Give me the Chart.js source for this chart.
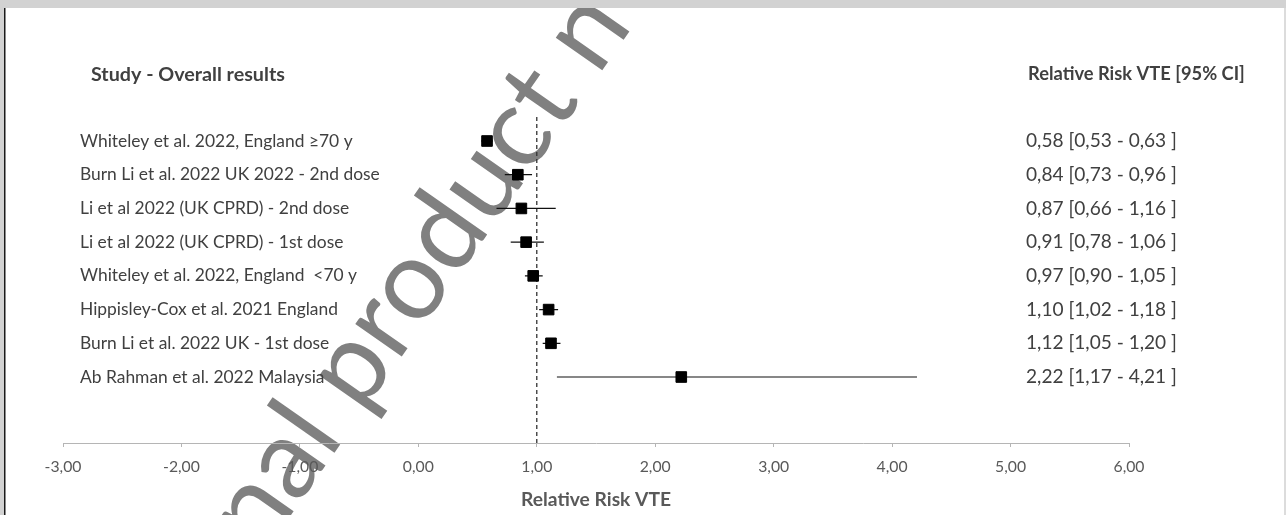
<!DOCTYPE html>
<html>
<head>
<meta charset="utf-8">
<script src="https://cdn.jsdelivr.net/npm/chart.js@4.4.1/dist/chart.umd.min.js"></script>
<style>
  html, body { margin: 0; padding: 0; background: #fff; }
  canvas { display: block; }
</style>
</head>
<body>
<canvas id="c" width="1286" height="515"></canvas>
<script>
// ---- data ----
const studies = [
  "Whiteley et al. 2022, England \u226570 y",
  "Burn Li et al. 2022 UK 2022 - 2nd dose",
  "Li et al 2022 (UK CPRD) - 2nd dose",
  "Li et al 2022 (UK CPRD) - 1st dose",
  "Whiteley et al. 2022, England  <70 y",
  "Hippisley-Cox et al. 2021 England",
  "Burn Li et al. 2022 UK - 1st dose",
  "Ab Rahman et al. 2022 Malaysia"
];
const rr = [0.58, 0.84, 0.87, 0.91, 0.97, 1.10, 1.12, 2.22];
const ciLow = [0.53, 0.73, 0.66, 0.78, 0.90, 1.02, 1.05, 1.17];
const ciHigh = [0.63, 0.96, 1.16, 1.06, 1.05, 1.18, 1.20, 4.21];
const xTicks = [-3, -2, -1, 0, 1, 2, 3, 4, 5, 6];
const leftHeader = "Study - Overall results";
const rightHeader = "Relative Risk VTE [95% CI]";
const axisTitle = "Relative Risk VTE";
const refValue = 1;
const watermark = "original product n";

const fmt = v => v.toFixed(2).replace('.', ',');
const ciLabels = rr.map((v, i) => `${fmt(v)} [${fmt(ciLow[i])} - ${fmt(ciHigh[i])} ]`);

const Y_MIN = -0.712, Y_MAX = 8.957;

const markerData = rr.map((v, i) => ({ x: v, y: i }));
const whiskerData = [];
ciLow.forEach((l, i) => {
  whiskerData.push({ x: l, y: i });
  whiskerData.push({ x: ciHigh[i], y: i });
  whiskerData.push({ x: ciHigh[i], y: null });
});
const refData = [{ x: refValue, y: Y_MIN }, { x: refValue, y: Y_MAX }];

const FONT = "Lato, 'Open Sans', sans-serif";

// font sizes fitted so that text widths match the reference layout
const mctx = document.createElement('canvas').getContext('2d');
function fit(text, target, weight) {
  mctx.font = (weight || '') + " 100px " + FONT;
  return +(100 * target / mctx.measureText(text).width).toFixed(2);
}
const labelSize = fit(studies[1], 300);
const ciSize = fit(ciLabels[1], 151);
const headSizeL = fit(leftHeader, 194, 'bold');
const headSizeR = fit(rightHeader, 217, 'bold');
const titleSize = fit(axisTitle, 150, 'bold');
const tickSize = fit("1,00", 31);

const decor = {
  id: 'decor',
  beforeDraw(chart) {
    const ctx = chart.ctx;
    ctx.save();
    ctx.fillStyle = '#ffffff';
    ctx.fillRect(0, 0, chart.width, chart.height);
    // watermark (behind the chart)
    const size = 112;
    ctx.save();
    ctx.font = size + "px " + FONT;
    ctx.fillStyle = '#808080';
    ctx.textBaseline = 'alphabetic';
    ctx.textAlign = 'left';
    const pre = ctx.measureText("original produ").width;
    const cw = ctx.measureText("c").width;
    ctx.translate(520, 139);
    ctx.rotate(-55 * Math.PI / 180);
    ctx.fillText(watermark, -pre - cw / 2, 0.25 * size);
    ctx.restore();
    // page frame
    ctx.fillStyle = '#d2d2d2';
    ctx.fillRect(0, 0, chart.width, 8);
    ctx.fillRect(0, 0, 4, chart.height);
    ctx.fillStyle = '#1a1a1a';
    ctx.fillRect(4, 8, 1.5, chart.height - 8);
    ctx.fillStyle = '#dcdcdc';
    ctx.fillRect(chart.width - 2, 8, 2, chart.height - 8);
    ctx.restore();
  },
  afterDatasetsDraw(chart) {
    const ctx = chart.ctx;
    const ys = chart.scales.y;
    ctx.save();
    ctx.textBaseline = 'middle';
    ctx.textAlign = 'left';
    ctx.fillStyle = '#404040';
    ctx.font = labelSize + "px " + FONT;
    studies.forEach((s, i) => ctx.fillText(s, 80, ys.getPixelForValue(i)));
    ctx.font = ciSize + "px " + FONT;
    ciLabels.forEach((s, i) => ctx.fillText(s, 1026, ys.getPixelForValue(i)));
    const hy = ys.getPixelForValue(-1.97);
    ctx.font = "bold " + headSizeL + "px " + FONT;
    ctx.fillText(leftHeader, 91, hy);
    ctx.font = "bold " + headSizeR + "px " + FONT;
    ctx.fillText(rightHeader, 1028, hy);
    ctx.restore();
  }
};

new Chart(document.getElementById('c'), {
  type: 'scatter',
  data: {
    datasets: [
      {
        data: markerData, order: 0,
        pointStyle: 'rect', pointRadius: 7.5, pointHoverRadius: 7.5,
        backgroundColor: '#000', borderColor: '#000', borderWidth: 1
      },
      {
        data: whiskerData, order: 1, showLine: true, spanGaps: false,
        pointRadius: 0, borderColor: '#111', borderWidth: 1.2
      },
      {
        data: refData, order: 2, showLine: true,
        pointRadius: 0, borderColor: '#333', borderWidth: 1.3, borderDash: [4, 3]
      }
    ]
  },
  options: {
    responsive: false,
    animation: false,
    events: [],
    layout: { padding: { left: 63, right: 157, top: 117, bottom: 0 } },
    plugins: { legend: { display: false }, tooltip: { enabled: false } },
    scales: {
      x: {
        type: 'linear', min: -3, max: 6,
        afterBuildTicks(scale) { scale.ticks = xTicks.map(v => ({ value: v })); },
        afterFit(scale) { scale.height = 72; },
        border: { display: true, color: '#b5b5b5', width: 1 },
        grid: { display: true, drawOnChartArea: false, drawTicks: true, tickLength: 4, color: '#b5b5b5' },
        ticks: {
          color: '#595959', padding: 10, maxRotation: 0, autoSkip: false,
          font: { family: FONT, size: tickSize },
          callback: v => fmt(v)
        },
        title: {
          display: true, text: axisTitle, color: '#595959',
          font: { family: FONT, size: titleSize, weight: 'bold' },
          padding: { top: 0, bottom: 4 }
        }
      },
      y: { type: 'linear', display: false, reverse: true, min: Y_MIN, max: Y_MAX }
    }
  },
  plugins: [decor]
});
</script>
</body>
</html>
